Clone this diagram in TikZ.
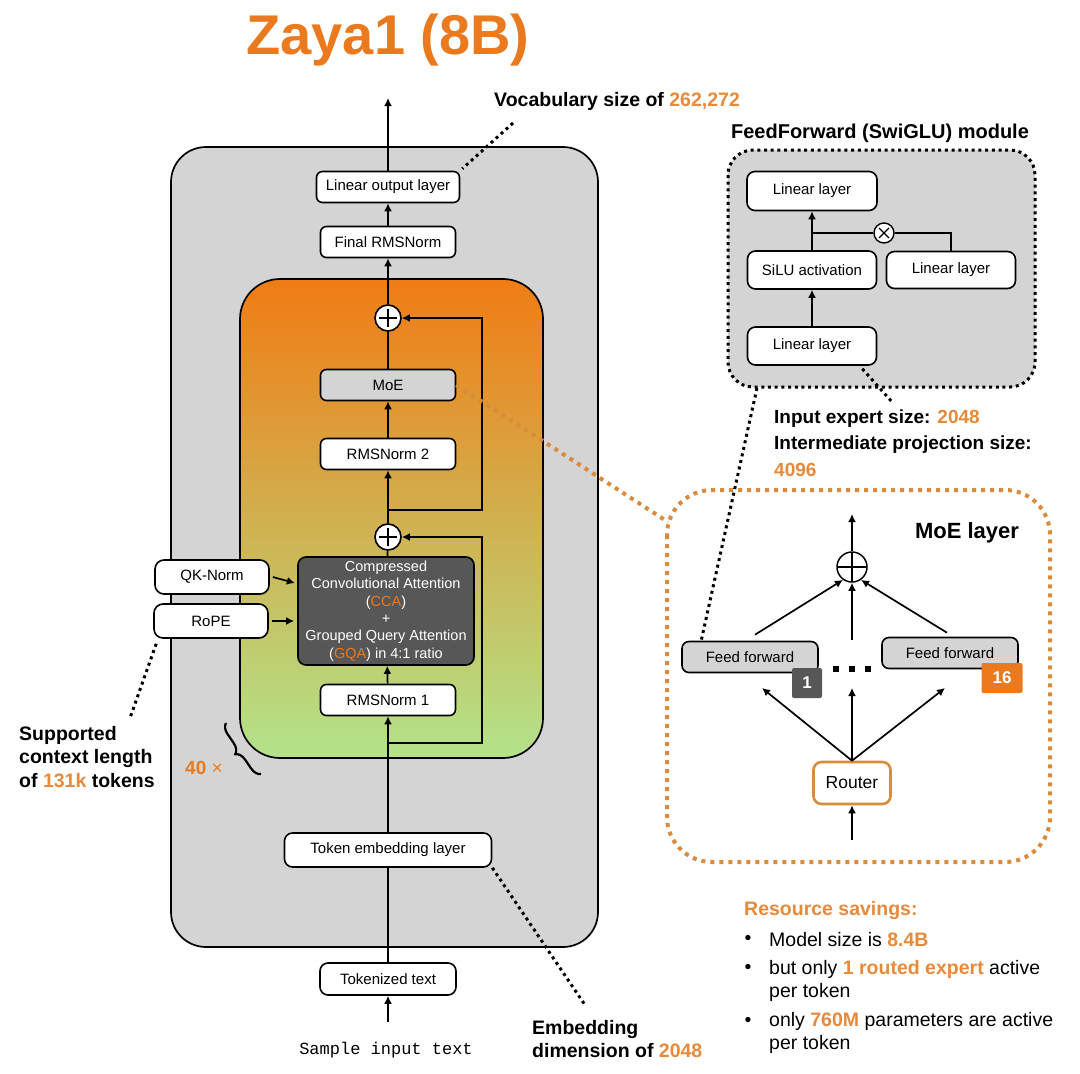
\documentclass[tikz,border=0pt]{standalone}
\usepackage{fontspec}
\setmainfont{Liberation Sans}
\setmonofont{Liberation Mono}
\usetikzlibrary{arrows.meta,decorations.pathreplacing}
\definecolor{zorange}{HTML}{EB7A1E}
\definecolor{znum}{HTML}{E68A3C}
\definecolor{zgray}{HTML}{D4D4D4}
\definecolor{zdark}{HTML}{575757}
\definecolor{zdot}{HTML}{D98B3E}
\definecolor{ztop}{HTML}{F07C14}
\definecolor{zbot}{HTML}{B3E38A}
\begin{document}
\begin{tikzpicture}[x=1pt,y=-1pt,line width=1.7pt,
  >={Latex[length=8pt,width=8pt]},
  box/.style={draw,line width=1.6pt,rounded corners=6pt,fill=white,minimum height=31pt,inner sep=2pt,font=\fontsize{15}{17}\selectfont},
  ffbox/.style={box,rounded corners=8pt,minimum width=129pt,minimum height=38pt},
  sum/.style={draw,circle,fill=white,line width=1.6pt,minimum size=26pt,inner sep=0pt,
    path picture={\draw[line width=1.4pt] ([xshift=-9pt]path picture bounding box.center) -- ([xshift=9pt]path picture bounding box.center)
      ([yshift=-9pt]path picture bounding box.center) -- ([yshift=9pt]path picture bounding box.center);}},
  note/.style={font=\fontsize{19.5}{23.5}\selectfont\bfseries,align=left},
  kdot/.style={line width=3pt,dash pattern=on 3pt off 3.7pt},
  odot/.style={draw=zdot,line width=4pt,dash pattern=on 4pt off 5pt}]
\fill[white] (0,0) rectangle (1080,1074);
\useasboundingbox (0,0) rectangle (1080,1074);

\node[font=\fontsize{56}{56}\selectfont\bfseries,text=zorange] (title) at (388,40) {Zaya1 (8B)};

% decoder stack
\draw[fill=zgray,rounded corners=35pt] (171,147) rectangle (598,947);
\draw[top color=ztop,bottom color=zbot,rounded corners=40pt] (240,279) rectangle (543,758);

\node[box,minimum width=143pt] (lin) at (388,187) {Linear output layer};
\node[box,minimum width=135pt] (fnorm) at (388,242) {Final RMSNorm};
\node[sum] (add2) at (388,318) {};
\node[box,fill=zgray,minimum width=135pt] (moe) at (388,385) {MoE};
\node[box,minimum width=135pt] (norm2) at (388,454) {RMSNorm 2};
\node[sum] (add1) at (388,537) {};
\node[box,fill=zdark,text=white,rounded corners=8pt,minimum width=176pt,minimum height=108pt,inner sep=1pt,
  font=\fontsize{14.5}{17.4}\selectfont,align=center] (cca) at (386,611)
  {Compressed\\Convolutional Attention\\(\textcolor{zorange}{CCA})\\+\\Grouped Query Attention\\(\textcolor{zorange}{GQA}) in 4:1 ratio};
\node[box,minimum width=135pt] (norm1) at (388,700) {RMSNorm 1};
\node[box,minimum width=114pt,minimum height=34pt,rounded corners=9pt] (qk) at (212,577) {QK-Norm};
\node[box,minimum width=114pt,minimum height=34pt,rounded corners=9pt] (rope) at (211,621) {RoPE};
\node[box,minimum width=207pt,minimum height=34pt,rounded corners=8pt] (emb) at (388,850) {Token embedding layer};
\node[box,minimum width=136pt,minimum height=32pt,rounded corners=8pt] (tok) at (388,979) {Tokenized text};
\node[font=\fontsize{17}{17}\selectfont\ttfamily] (sample) at (386,1050) {Sample input text};

\coordinate (out) at (388,98);
\coordinate (sin) at (388,1022);
\coordinate (r1) at (388,743);
\coordinate (r2) at (388,510);
\draw[->] (sin) -- (tok);
\draw (tok) -- (emb);
\draw[->] (emb) -- (norm1);
\draw[->] (norm1) -- (cca);
\draw (cca) -- (add1);
\draw[->] (add1) -- (norm2);
\draw[->] (norm2) -- (moe);
\draw (moe) -- (add2);
\draw[->] (add2) -- (fnorm);
\draw[->] (fnorm) -- (lin);
\draw[->] (lin) -- (out);
\draw[->] (r1) -- ++(94,0) |- (add1);
\draw[->] (r2) -- ++(94,0) |- (add2);
\draw[->] ([xshift=3pt]qk.east) -- ++(22,6);
\draw[->,shorten >=3pt] ([xshift=3pt]rope.east) -- (cca.west |- rope.east);

\coordinate (brlo) at (261,774);
\coordinate (brhi) at (226,723);
\draw[decorate,decoration={brace,amplitude=10pt},line width=2.2pt] (brlo) -- (brhi);
\node[font=\fontsize{19}{19}\selectfont,text=zorange] (reps) at (204,768) {\textbf{40} ×};

% notes round the stack
\node[note,anchor=west] (voc) at (490,101) {Vocabulary size of \textcolor{znum}{262,272}};
\coordinate (vocend) at (513,123);
\draw[kdot] (vocend) -- ([xshift=2pt,yshift=2pt]lin.north east);
\node[note,anchor=west] (ctx) at (15,757) {Supported\\context length\\of \textcolor{znum}{131k} tokens};
\coordinate (ctxend) at (130,718);
\draw[kdot] ([xshift=3pt,yshift=-5pt]rope.south west) -- (ctxend);
\node[note,anchor=west,font=\fontsize{19.5}{22.5}\selectfont\bfseries] (dim) at (528,1039) {Embedding\\dimension of \textcolor{znum}{2048}};
\coordinate (dimend) at (585,1005);
\draw[kdot] (emb.south east) -- (dimend);

% feedforward module
\node[font=\fontsize{20}{20}\selectfont\bfseries] (fftitle) at (880,133) {FeedForward (SwiGLU) module};
\draw[fill=zgray,kdot,rounded corners=25pt] (728,150) rectangle (1035,387);
\node[ffbox,minimum width=130pt,minimum height=39pt] (ffout) at (812,191) {Linear layer};
\node[ffbox] (silu) at (812,270) {SiLU activation};
\node[ffbox,minimum height=37pt] (ffgate) at (951,270) {Linear layer};
\node[ffbox] (ffin) at (812,346) {Linear layer};
\node[draw,circle,fill=white,line width=1.4pt,minimum size=20pt,inner sep=0pt,
  path picture={\draw[line width=1.2pt] ([shift={(-5pt,-5pt)}]path picture bounding box.center) -- ([shift={(5pt,5pt)}]path picture bounding box.center)
    ([shift={(-5pt,5pt)}]path picture bounding box.center) -- ([shift={(5pt,-5pt)}]path picture bounding box.center);}] (mul) at (884,233) {};
\draw[->] (ffin) -- (silu);
\draw[->] (silu) -- (ffout);
\draw (silu.north |- mul) -- (mul) -- (mul -| ffgate) -- (ffgate);

\node[note,anchor=west,font=\fontsize{19}{26.5}\selectfont\bfseries] (sizes) at (770,443)
  {Input expert size: \textcolor{znum}{2048}\\Intermediate projection size:\\\textcolor{znum}{4096}};
\coordinate (sizend) at (893,403);
\draw[kdot] ([xshift=-15pt,yshift=-3pt]ffin.south east) -- (sizend);

% MoE layer
\draw[odot,rounded corners=45pt] (667,490) rectangle (1050,862);
\node[font=\fontsize{22}{22}\selectfont\bfseries] (moetitle) at (967,533) {MoE layer};
\node[draw,circle,fill=white,line width=1.5pt,minimum size=30pt,inner sep=0pt,
  path picture={\draw[line width=1.4pt] (path picture bounding box.west) -- (path picture bounding box.east)
    (path picture bounding box.north) -- (path picture bounding box.south);}] (sum) at (852,567) {};
\node[box,fill=zgray,minimum width=136pt,rounded corners=7pt] (ff1) at (750,657) {Feed forward};
\node[box,fill=zgray,minimum width=136pt,rounded corners=7pt] (ff16) at (950,653) {Feed forward};
\node[fill=zdark,text=white,rounded corners=2pt,minimum width=30pt,minimum height=30pt,font=\fontsize{17}{17}\selectfont\bfseries] (n1) at (807,683) {1};
\node[fill=zorange,text=white,rounded corners=2pt,minimum width=41pt,minimum height=30pt,font=\fontsize{17}{17}\selectfont\bfseries] (n16) at (1002,678) {16};
\foreach \i/\x in {1/836,2/852,3/868}
  \node[fill=black,minimum size=6pt,inner sep=0pt] (dot\i) at (\x,669) {};
\node[box,draw=zdot,line width=2.6pt,rounded corners=8pt,minimum width=77pt,minimum height=42pt,font=\fontsize{17.5}{20}\selectfont] (router) at (852,783) {Router};

\coordinate (sout) at (852,514);
\coordinate (mid) at (852,640);
\coordinate (rin) at (852,840);
\draw[->] (sum) -- (sout);
\draw[->] ([xshift=5pt,yshift=6pt]ff1.north) -- (sum.235);
\draw[->] (mid) -- (sum);
\draw[->] ([xshift=-3pt,yshift=4pt]ff16.north) -- (sum.305);
\foreach \n/\x in {a/762,b/852,c/945} {
  \coordinate (to\n) at (\x,688);
  \draw[->] (router.north) -- (to\n);
}
\draw[->] (rin) -- (router);

\coordinate (moecorner) at (668,522);
\draw[odot] (moe.east) -- (moecorner);
\coordinate (ffbot) at (757,388);
\draw[kdot] (ffbot) -- ([xshift=20pt]ff1.north west);

% savings
\node[note,anchor=west,text=znum] (saving) at (740,910) {Resource savings:};
\foreach \y in {940,969,1022}
  \node[font=\fontsize{19.5}{23}\selectfont] (bul\y) at (748,\y) {•};
\node[anchor=west,font=\fontsize{19.5}{23}\selectfont] (s1) at (765,940) {Model size is \textbf{\textcolor{znum}{8.4B}}};
\node[anchor=west,align=left,font=\fontsize{19.5}{23}\selectfont] (s2) at (765,980.5) {but only \textbf{\textcolor{znum}{1 routed expert}} active\\per token};
\node[anchor=west,align=left,font=\fontsize{19.5}{23}\selectfont] (s3) at (765,1033) {only \textbf{\textcolor{znum}{760M}} parameters are active\\per token};
\end{tikzpicture}
\end{document}
